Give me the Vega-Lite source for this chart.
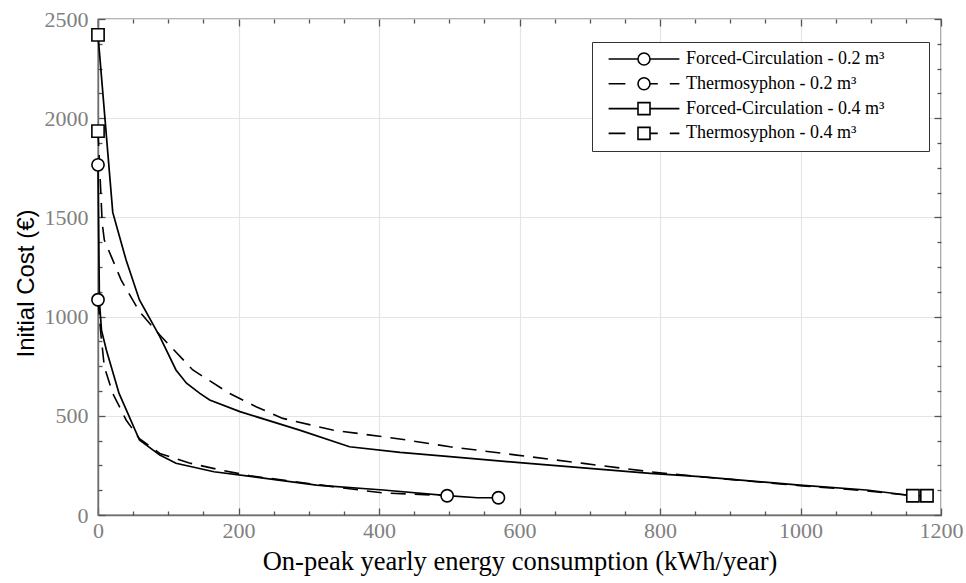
{
  "$schema": "https://vega.github.io/schema/vega-lite/v6.json",
  "width": 843,
  "height": 496,
  "autosize": {"type": "none"},
  "padding": {"left": 98, "top": 19, "right": 25, "bottom": 68},
  "background": "white",
  "config": {
    "view": {"stroke": "#6e6e6e", "strokeWidth": 1.4},
    "axis": {
      "domainColor": "#6e6e6e",
      "domainWidth": 1.4,
      "tickColor": "#555555",
      "tickWidth": 1.3,
      "gridColor": "#e4e4e4",
      "gridWidth": 1.2,
      "labelFont": "Liberation Serif",
      "labelFontSize": 22,
      "labelColor": "#808080",
      "labelFlush": false,
      "labelOverlap": false,
      "format": "d"
    }
  },
  "data": {
    "values": [
      {"series": "Forced-Circulation - 0.2 m³", "x": 0, "y": 1765},
      {"series": "Forced-Circulation - 0.2 m³", "x": 2, "y": 1080},
      {"series": "Forced-Circulation - 0.2 m³", "x": 5, "y": 930},
      {"series": "Forced-Circulation - 0.2 m³", "x": 12, "y": 830},
      {"series": "Forced-Circulation - 0.2 m³", "x": 30, "y": 613},
      {"series": "Forced-Circulation - 0.2 m³", "x": 59, "y": 378},
      {"series": "Forced-Circulation - 0.2 m³", "x": 88, "y": 302},
      {"series": "Forced-Circulation - 0.2 m³", "x": 111, "y": 261},
      {"series": "Forced-Circulation - 0.2 m³", "x": 165, "y": 218},
      {"series": "Forced-Circulation - 0.2 m³", "x": 220, "y": 193},
      {"series": "Forced-Circulation - 0.2 m³", "x": 311, "y": 151},
      {"series": "Forced-Circulation - 0.2 m³", "x": 406, "y": 126},
      {"series": "Forced-Circulation - 0.2 m³", "x": 497, "y": 98},
      {"series": "Forced-Circulation - 0.2 m³", "x": 540, "y": 87},
      {"series": "Forced-Circulation - 0.2 m³", "x": 570, "y": 87},
      {"series": "Thermosyphon - 0.2 m³", "x": 0, "y": 1085},
      {"series": "Thermosyphon - 0.2 m³", "x": 4, "y": 916},
      {"series": "Thermosyphon - 0.2 m³", "x": 9, "y": 747},
      {"series": "Thermosyphon - 0.2 m³", "x": 21, "y": 613},
      {"series": "Thermosyphon - 0.2 m³", "x": 40, "y": 479},
      {"series": "Thermosyphon - 0.2 m³", "x": 59, "y": 385},
      {"series": "Thermosyphon - 0.2 m³", "x": 88, "y": 310},
      {"series": "Thermosyphon - 0.2 m³", "x": 130, "y": 262},
      {"series": "Thermosyphon - 0.2 m³", "x": 173, "y": 228},
      {"series": "Thermosyphon - 0.2 m³", "x": 216, "y": 198},
      {"series": "Thermosyphon - 0.2 m³", "x": 263, "y": 176},
      {"series": "Thermosyphon - 0.2 m³", "x": 334, "y": 143},
      {"series": "Thermosyphon - 0.2 m³", "x": 406, "y": 111},
      {"series": "Thermosyphon - 0.2 m³", "x": 477, "y": 101},
      {"series": "Thermosyphon - 0.2 m³", "x": 497, "y": 97},
      {"series": "Forced-Circulation - 0.4 m³", "x": 0, "y": 2420},
      {"series": "Forced-Circulation - 0.4 m³", "x": 21, "y": 1525},
      {"series": "Forced-Circulation - 0.4 m³", "x": 40, "y": 1285},
      {"series": "Forced-Circulation - 0.4 m³", "x": 59, "y": 1084},
      {"series": "Forced-Circulation - 0.4 m³", "x": 88, "y": 899},
      {"series": "Forced-Circulation - 0.4 m³", "x": 111, "y": 731},
      {"series": "Forced-Circulation - 0.4 m³", "x": 126, "y": 664},
      {"series": "Forced-Circulation - 0.4 m³", "x": 145, "y": 613},
      {"series": "Forced-Circulation - 0.4 m³", "x": 159, "y": 580},
      {"series": "Forced-Circulation - 0.4 m³", "x": 202, "y": 521},
      {"series": "Forced-Circulation - 0.4 m³", "x": 287, "y": 428},
      {"series": "Forced-Circulation - 0.4 m³", "x": 358, "y": 344},
      {"series": "Forced-Circulation - 0.4 m³", "x": 430, "y": 316},
      {"series": "Forced-Circulation - 0.4 m³", "x": 501, "y": 294},
      {"series": "Forced-Circulation - 0.4 m³", "x": 600, "y": 264},
      {"series": "Forced-Circulation - 0.4 m³", "x": 786, "y": 210},
      {"series": "Forced-Circulation - 0.4 m³", "x": 857, "y": 193},
      {"series": "Forced-Circulation - 0.4 m³", "x": 999, "y": 151},
      {"series": "Forced-Circulation - 0.4 m³", "x": 1094, "y": 126},
      {"series": "Forced-Circulation - 0.4 m³", "x": 1160, "y": 97},
      {"series": "Forced-Circulation - 0.4 m³", "x": 1180, "y": 97},
      {"series": "Thermosyphon - 0.4 m³", "x": 0, "y": 1935},
      {"series": "Thermosyphon - 0.4 m³", "x": 6, "y": 1470},
      {"series": "Thermosyphon - 0.4 m³", "x": 9, "y": 1386},
      {"series": "Thermosyphon - 0.4 m³", "x": 19, "y": 1302},
      {"series": "Thermosyphon - 0.4 m³", "x": 33, "y": 1184},
      {"series": "Thermosyphon - 0.4 m³", "x": 59, "y": 1025},
      {"series": "Thermosyphon - 0.4 m³", "x": 88, "y": 907},
      {"series": "Thermosyphon - 0.4 m³", "x": 135, "y": 731},
      {"series": "Thermosyphon - 0.4 m³", "x": 187, "y": 613},
      {"series": "Thermosyphon - 0.4 m³", "x": 225, "y": 546},
      {"series": "Thermosyphon - 0.4 m³", "x": 263, "y": 487},
      {"series": "Thermosyphon - 0.4 m³", "x": 334, "y": 428},
      {"series": "Thermosyphon - 0.4 m³", "x": 432, "y": 382},
      {"series": "Thermosyphon - 0.4 m³", "x": 501, "y": 344},
      {"series": "Thermosyphon - 0.4 m³", "x": 596, "y": 302},
      {"series": "Thermosyphon - 0.4 m³", "x": 691, "y": 260},
      {"series": "Thermosyphon - 0.4 m³", "x": 786, "y": 218},
      {"series": "Thermosyphon - 0.4 m³", "x": 857, "y": 193},
      {"series": "Thermosyphon - 0.4 m³", "x": 999, "y": 148},
      {"series": "Thermosyphon - 0.4 m³", "x": 1094, "y": 122},
      {"series": "Thermosyphon - 0.4 m³", "x": 1160, "y": 97}
    ]
  },
  "layer": [
    {
      "transform": [{"filter": "indexof(datum.series, 'Forced') >= 0"}],
      "mark": {"type": "line", "color": "black", "strokeWidth": 1.7},
      "encoding": {
        "x": {
          "field": "x", "type": "quantitative",
          "scale": {"domain": [0, 1200], "nice": false, "zero": false},
          "axis": {
            "orient": "bottom",
            "values": [0, 200, 400, 600, 800, 1000, 1200],
            "grid": true,
            "tickSize": -7,
            "labelPadding": 12,
            "title": "On-peak yearly energy consumption (kWh/year)",
            "titleFont": "Liberation Serif",
            "titleFontSize": 26.5,
            "titleFontWeight": "normal",
            "titleColor": "black",
            "titlePadding": 7
          }
        },
        "y": {
          "field": "y", "type": "quantitative",
          "scale": {"domain": [0, 2500], "nice": false, "zero": false},
          "axis": {
            "orient": "left",
            "values": [0, 500, 1000, 1500, 2000, 2500],
            "grid": true,
            "tickSize": -7,
            "labelPadding": 17,
            "title": "Initial Cost (€)",
            "titleFont": "Liberation Sans",
            "titleFontSize": 24,
            "titleFontWeight": "normal",
            "titleColor": "black",
            "titlePadding": 6,
            "titleY": 264
          }
        },
        "detail": {"field": "series"}
      }
    },
    {
      "transform": [{"filter": "indexof(datum.series, 'Thermo') >= 0"}],
      "mark": {"type": "line", "color": "black", "strokeWidth": 1.6, "strokeDash": [15, 9]},
      "encoding": {
        "x": {
          "field": "x", "type": "quantitative",
          "axis": {
            "orient": "bottom", "title": null, "labels": false, "grid": false, "domain": false, "tickSize": -4,
            "values": [50, 100, 150, 250, 300, 350, 450, 500, 550, 650, 700, 750, 850, 900, 950, 1050, 1100, 1150]
          }
        },
        "y": {
          "field": "y", "type": "quantitative",
          "axis": {
            "orient": "left", "title": null, "labels": false, "grid": false, "domain": false, "tickSize": -4,
            "values": [125, 250, 375, 625, 750, 875, 1125, 1250, 1375, 1625, 1750, 1875, 2125, 2250, 2375]
          }
        },
        "detail": {"field": "series"}
      }
    },
    {
      "transform": [
        {"joinaggregate": [{"op": "min", "field": "x", "as": "xmin"}, {"op": "max", "field": "x", "as": "xmax"}], "groupby": ["series"]},
        {"filter": "(datum.x == datum.xmin || datum.x == datum.xmax) && indexof(datum.series, '0.2') >= 0"}
      ],
      "mark": {"type": "point", "shape": "circle", "filled": true, "fill": "white", "stroke": "black", "strokeWidth": 1.6, "size": 150, "opacity": 1},
      "encoding": {
        "x": {
          "field": "x", "type": "quantitative",
          "axis": {"orient": "top", "title": null, "labels": false, "grid": false, "domain": false, "tickSize": -7, "values": [0, 200, 400, 600, 800, 1000, 1200]}
        },
        "y": {
          "field": "y", "type": "quantitative",
          "axis": {"orient": "right", "title": null, "labels": false, "grid": false, "domain": false, "tickSize": -7, "values": [0, 500, 1000, 1500, 2000, 2500]}
        }
      }
    },
    {
      "transform": [
        {"joinaggregate": [{"op": "min", "field": "x", "as": "xmin"}, {"op": "max", "field": "x", "as": "xmax"}], "groupby": ["series"]},
        {"filter": "(datum.x == datum.xmin || datum.x == datum.xmax) && indexof(datum.series, '0.4') >= 0"}
      ],
      "mark": {"type": "point", "shape": "square", "filled": true, "fill": "white", "stroke": "black", "strokeWidth": 1.6, "size": 150, "opacity": 1},
      "encoding": {
        "x": {
          "field": "x", "type": "quantitative",
          "axis": {
            "orient": "top", "title": null, "labels": false, "grid": false, "domain": false, "tickSize": -4,
            "values": [50, 100, 150, 250, 300, 350, 450, 500, 550, 650, 700, 750, 850, 900, 950, 1050, 1100, 1150]
          }
        },
        "y": {
          "field": "y", "type": "quantitative",
          "axis": {
            "orient": "right", "title": null, "labels": false, "grid": false, "domain": false, "tickSize": -4,
            "values": [125, 250, 375, 625, 750, 875, 1125, 1250, 1375, 1625, 1750, 1875, 2125, 2250, 2375]
          }
        }
      }
    },
    {
      "mark": {"type": "point", "opacity": 0, "filled": false, "color": "black"},
      "encoding": {
        "x": {"field": "x", "type": "quantitative", "axis": null},
        "y": {"field": "y", "type": "quantitative", "axis": null},
        "shape": {
          "field": "series", "type": "nominal",
          "scale": {
            "domain": ["Forced-Circulation - 0.2 m³", "Thermosyphon - 0.2 m³", "Forced-Circulation - 0.4 m³", "Thermosyphon - 0.4 m³"],
            "range": [
              "M-5.9,0H-1M1,0H5.9M1,0A1,1,0,1,1,-1,0A1,1,0,1,1,1,0Z",
              "M-5.9,0H-3.1M1,0H2.3M4.3,0H5.9M1,0A1,1,0,1,1,-1,0A1,1,0,1,1,1,0Z",
              "M-5.9,0H-1M1,0H5.9M-1,-1H1V1H-1Z",
              "M-5.9,0H-3.1M1,0H2.3M4.3,0H5.9M-1,-1H1V1H-1Z"
            ]
          },
          "legend": {
            "title": null,
            "orient": "none",
            "legendX": 494,
            "legendY": 23,
            "padding": 8,
            "strokeColor": "#333333",
            "fillColor": "white",
            "symbolSize": 144,
            "symbolOffset": 35,
            "symbolOpacity": 1,
            "symbolStrokeColor": "black",
            "symbolFillColor": "white",
            "symbolStrokeWidth": 1.6,
            "labelOffset": 33,
            "rowPadding": 4.8,
            "labelFont": "Liberation Serif",
            "labelFontSize": 18,
            "labelColor": "black",
            "labelLimit": 400,
            "labelExpr": "datum.label + '\u00a0\u00a0\u00a0\u00a0\u00a0\u00a0\u00a0\u00a0\u200b'"
          }
        }
      }
    }
  ],
  "resolve": {"axis": {"x": "independent", "y": "independent"}}
}
